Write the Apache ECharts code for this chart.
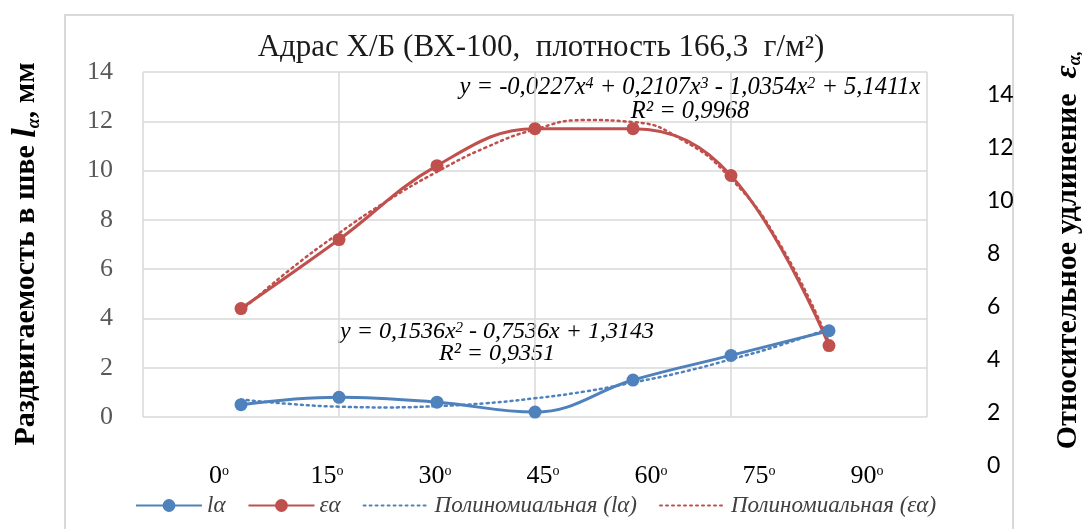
<!DOCTYPE html>
<html>
<head>
<meta charset="utf-8">
<script src="https://cdn.jsdelivr.net/npm/echarts@6/dist/echarts.min.js"></script>
<style>
  html, body { margin: 0; padding: 0; background: #fff; }
  #chart { width: 1082px; height: 529px; }
</style>
</head>
<body>
<div id="chart"></div>
<script>
// точки по оси X (Excel scatter 0..8), подписи углов
const xPos = [1, 2, 3, 4, 5, 6, 7];
const angleLabels = ['0', '15', '30', '45', '60', '75', '90'];
// раздвигаемость lα, мм
const lengthVals = [0.5, 0.8, 0.6, 0.2, 1.5, 2.5, 3.5];
// относительное удлинение εα
const elongVals = [4.4, 7.2, 10.2, 11.7, 11.7, 9.8, 2.9];
const trendX = [1, 1.5, 2, 2.5, 3, 3.5, 4, 4.5, 5, 5.5, 6, 6.5, 7];
const lengthTrend = [0.71, 0.53, 0.42, 0.39, 0.44, 0.56, 0.76, 1.03, 1.4, 1.82, 2.34, 2.91, 3.59];
const elongTrend = [4.3, 5.98, 7.46, 8.79, 9.95, 10.94, 11.67, 12.05, 11.97, 11.25, 9.67, 7.01, 3.03];
// подписи правой оси
const rightTicks = [0, 2, 4, 6, 8, 10, 12, 14];

const BLUE = '#4f81bd';
const RED = '#c0504d';
const SERIF = 'Liberation Serif';

const pairs = (xs, vals) => xs.map((x, i) => [x, vals[i]]);

let myChart = echarts.init(document.getElementById('chart'));

let option = {
  animation: false,
  title: {
    text: 'Адрас Х/Б (ВХ-100,  плотность 166,3  г/м²)',
    left: 'center',
    top: 32,
    padding: 0,
    textStyle: { fontFamily: SERIF, fontSize: 31, fontWeight: 'normal', color: '#1a1a1a' }
  },
  legend: {
    left: 130,
    top: 489,
    itemWidth: 66,
    itemHeight: 16,
    itemGap: 22,
    textStyle: { fontFamily: SERIF, fontStyle: 'italic', fontSize: 23, color: '#404040' },
    data: [
      'lα', 'εα',
      { name: 'Полиномиальная (lα)', itemStyle: { opacity: 0 } },
      { name: 'Полиномиальная (εα)', itemStyle: { opacity: 0 } }
    ]
  },
  grid: [
    { left: 143, top: 72, width: 784, height: 345, outerBoundsMode: 'none' },
    { left: 165, top: 72, width: 756, height: 390, outerBoundsMode: 'none' },
    { left: 900, top: 95, width: 60, height: 371, outerBoundsMode: 'none' }
  ],
  xAxis: [{
    type: 'value', gridIndex: 0, min: 0, max: 8, interval: 2,
    axisLine: { show: false }, axisTick: { show: false }, axisLabel: { show: false },
    splitLine: { show: true, lineStyle: { color: '#d9d9d9', width: 1.5 } }
  }, {
    type: 'category', gridIndex: 1, data: angleLabels,
    axisLine: { show: false }, axisTick: { show: false }, splitLine: { show: false },
    axisLabel: {
      margin: 2,
      formatter: v => '{a|' + v + '}{s|o}',
      rich: {
        a: { fontFamily: SERIF, fontSize: 26, color: '#000', lineHeight: 24 },
        s: { fontFamily: SERIF, fontSize: 14, color: '#000', verticalAlign: 'top' }
      }
    }
  }, {
    type: 'value', gridIndex: 2, show: false
  }],
  yAxis: [{
    type: 'value', gridIndex: 0, min: 0, max: 14, interval: 2,
    axisLine: { show: false }, axisTick: { show: false },
    axisLabel: { margin: 30, fontFamily: SERIF, fontSize: 26, color: '#595959' },
    splitLine: { show: true, lineStyle: { color: '#d9d9d9', width: 1.5 } }
  }, {
    type: 'value', gridIndex: 1, show: false
  }, {
    type: 'value', gridIndex: 2, position: 'right', min: 0, max: 14, interval: 2,
    axisLine: { show: false }, axisTick: { show: false }, splitLine: { show: false },
    axisLabel: {
      margin: 27, fontFamily: 'Lato', fontSize: 23, color: '#000',
      formatter: v => rightTicks.indexOf(v) >= 0 ? String(v) : ''
    }
  }],
  series: [{
    name: 'lα', type: 'line', data: pairs(xPos, lengthVals), smooth: 0.4,
    symbol: 'circle', symbolSize: 13,
    lineStyle: { color: BLUE, width: 3 }, itemStyle: { color: BLUE }
  }, {
    name: 'εα', type: 'line', data: pairs(xPos, elongVals), smooth: 0.4,
    symbol: 'circle', symbolSize: 13,
    lineStyle: { color: RED, width: 3 }, itemStyle: { color: RED }
  }, {
    name: 'Полиномиальная (lα)', type: 'line', data: pairs(trendX, lengthTrend), smooth: 0.5,
    symbol: 'none',
    lineStyle: { color: BLUE, width: 2.5, type: [2, 4], cap: 'round' }, itemStyle: { color: BLUE }
  }, {
    name: 'Полиномиальная (εα)', type: 'line', data: pairs(trendX, elongTrend), smooth: 0.5,
    symbol: 'none',
    lineStyle: { color: RED, width: 2.5, type: [2, 4], cap: 'round' }, itemStyle: { color: RED }
  }],
  graphic: [{
    type: 'rect', silent: true, z: -1,
    shape: { x: 65, y: 15, width: 948, height: 540 },
    style: { fill: 'none', stroke: '#d9d9d9', lineWidth: 2 }
  }, {
    // подпись левой оси
    type: 'text', x: 26, y: 254, rotation: Math.PI / 2,
    style: {
      text: '{b|Раздвигаемость в шве }{l|l}{sub|α}{b|, мм}',
      align: 'center', verticalAlign: 'middle',
      rich: {
        b: { fontFamily: SERIF, fontWeight: 'bold', fontSize: 30, color: '#000', lineHeight: 32 },
        l: { fontFamily: SERIF, fontWeight: 'bold', fontStyle: 'italic', fontSize: 34, color: '#000' },
        sub: { fontFamily: SERIF, fontWeight: 'bold', fontStyle: 'italic', fontSize: 18, color: '#000', verticalAlign: 'bottom' }
      }
    }
  }, {
    // подпись правой оси
    type: 'text', x: 1068, y: 250, rotation: Math.PI / 2,
    style: {
      text: '{b|Относительное удлинение  }{e|ε}{sub|α,}',
      align: 'center', verticalAlign: 'middle',
      rich: {
        b: { fontFamily: SERIF, fontWeight: 'bold', fontSize: 30, color: '#000', lineHeight: 32 },
        e: { fontFamily: SERIF, fontWeight: 'bold', fontStyle: 'italic', fontSize: 32, color: '#000' },
        sub: { fontFamily: SERIF, fontWeight: 'bold', fontStyle: 'italic', fontSize: 18, color: '#000', verticalAlign: 'bottom' }
      }
    }
  }, {
    // уравнение тренда εα
    type: 'text', x: 690, y: 100,
    style: {
      text: '{t|y = -0,0227x}{s|4}{t| + 0,2107x}{s|3}{t| - 1,0354x}{s|2}{t| + 5,1411x}\n{t|R² = 0,9968}',
      align: 'center', verticalAlign: 'middle',
      rich: {
        t: { fontFamily: SERIF, fontStyle: 'italic', fontSize: 24.5, color: '#262626', lineHeight: 24 },
        s: { fontFamily: SERIF, fontStyle: 'italic', fontSize: 16, color: '#262626', verticalAlign: 'top' }
      }
    }
  }, {
    // уравнение тренда lα
    type: 'text', x: 497, y: 343,
    style: {
      text: '{t|y = 0,1536x}{s|2}{t| - 0,7536x + 1,3143}\n{t|R² = 0,9351}',
      align: 'center', verticalAlign: 'middle',
      rich: {
        t: { fontFamily: SERIF, fontStyle: 'italic', fontSize: 24, color: '#262626', lineHeight: 22 },
        s: { fontFamily: SERIF, fontStyle: 'italic', fontSize: 15, color: '#262626', verticalAlign: 'top' }
      }
    }
  }]
};

myChart.setOption(option);
</script>
</body>
</html>
